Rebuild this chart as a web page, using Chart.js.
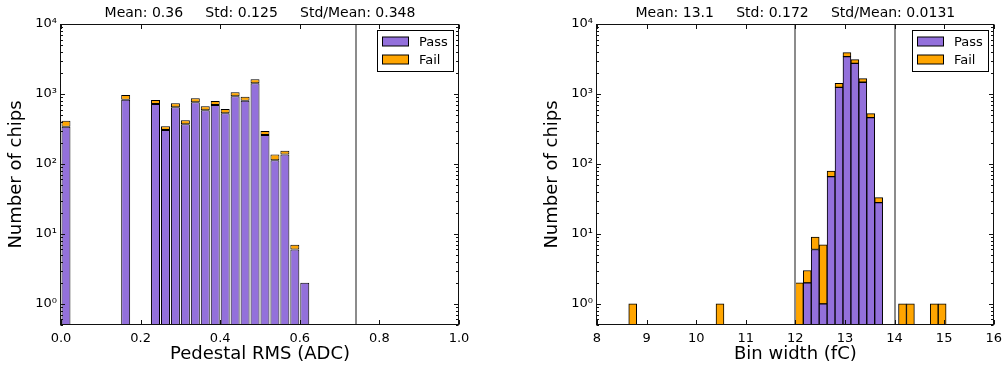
<!DOCTYPE html>
<html><head><meta charset="utf-8">
<script src="https://cdn.jsdelivr.net/npm/chart.js@4/dist/chart.umd.min.js"></script>
<style>
html,body{margin:0;padding:0;background:#fff;width:1008px;height:372px;overflow:hidden}
.w{position:absolute;top:0;width:504px;height:372px}
canvas{display:block}
</style></head><body>
<div class="w" style="left:0"><canvas id="c1" width="504" height="372"></canvas></div>
<div class="w" style="left:504px"><canvas id="c2" width="504" height="372"></canvas></div>
<script>
// ---------- data ----------
const leftBinCenters = [0.0125, 0.1625, 0.2375, 0.2625, 0.2875, 0.3125, 0.3375, 0.3625, 0.3875, 0.4125, 0.4375, 0.4625, 0.4875, 0.5125, 0.5375, 0.5625, 0.5875, 0.6125];
const leftPass = [340, 830, 720, 306, 646, 369, 761, 585, 697, 530, 926, 803, 1420, 260, 113, 136, 6, 2];
const leftFail = [75, 138, 100, 40, 90, 52, 107, 82, 97, 81, 131, 113, 200, 36, 24, 19, 1, 0];
const leftCuts = [0.74];
const leftHeader = 'Mean: 0.36     Std: 0.125     Std/Mean: 0.348';
const leftXTitle = 'Pedestal RMS (ADC)';

const rightBinCenters = [8.72, 10.48, 12.08, 12.24, 12.40, 12.56, 12.72, 12.88, 13.04, 13.20, 13.36, 13.52, 13.68, 14.16, 14.32, 14.80, 14.96];
const rightPass = [0, 0, 0, 2, 6, 1, 66, 1245, 3410, 2740, 1469, 459, 28, 0, 0, 0, 0];
const rightFail = [1, 1, 2, 1, 3, 6, 13, 175, 480, 350, 186, 64, 5, 1, 1, 1, 1];
const rightCuts = [12, 14];
const rightHeader = 'Mean: 13.1     Std: 0.172     Std/Mean: 0.0131';
const rightXTitle = 'Bin width (fC)';

const yTitle = 'Number of chips';
const yTickValues = [1, 10, 100, 1000, 10000];
const yTickLabels = ['10\u2070', '10\u00b9', '10\u00b2', '10\u00b3', '10\u2074'];
const seriesNames = ['Pass', 'Fail'];
const seriesColors = ['#9370DB', '#FFA500'];

// ---------- style ----------
const FONT = 'DejaVu Sans';
Chart.defaults.font.family = FONT;
Chart.defaults.color = '#000';

const mplPlugin = {
  id: 'mpl',
  afterDatasetsDraw(chart, args, opts) {
    const {ctx, chartArea: a, scales: {x, y}} = chart;
    ctx.save();
    // cut lines
    ctx.strokeStyle = '#8c8c8c';
    ctx.lineWidth = 2;
    for (const v of opts.cuts) {
      const px = Math.round(x.getPixelForValue(v));
      ctx.beginPath(); ctx.moveTo(px, a.top); ctx.lineTo(px, a.bottom); ctx.stroke();
    }
    // frame
    const L = Math.round(a.left) - 0.5, R = Math.round(a.right) - 0.5, T = Math.round(a.top) + 0.5, B = Math.round(a.bottom) - 0.5;
    ctx.strokeStyle = '#111';
    ctx.lineWidth = 1;
    ctx.strokeRect(L, T, R - L, B - T);
    // ticks
    ctx.beginPath();
    for (const t of x.ticks) {
      const px = Math.round(x.getPixelForValue(t.value)) + 0.5;
      ctx.moveTo(px, B); ctx.lineTo(px, B - 4.5);
      ctx.moveTo(px, T); ctx.lineTo(px, T + 4.5);
    }
    for (let k = -1; k <= 4; k++) {
      for (let m = 1; m <= 9; m++) {
        const v = m * Math.pow(10, k);
        if (v < y.min - 1e-9 || v > y.max + 1e-9) continue;
        const py = Math.round(y.getPixelForValue(v)) + 0.5;
        const len = m === 1 ? 4.5 : 2.5;
        ctx.moveTo(L, py); ctx.lineTo(L + len, py);
        ctx.moveTo(R, py); ctx.lineTo(R - len, py);
      }
    }
    ctx.stroke();
    // header
    ctx.fillStyle = '#000';
    ctx.font = '14px "' + FONT + '"';
    ctx.textAlign = 'center';
    ctx.textBaseline = 'alphabetic';
    ctx.fillText(opts.header, (a.left + a.right) / 2, 16.5);
    // legend
    const lw = 76, lh = 41;
    const lx = Math.round(a.right - 6 - lw) + 0.5, ly = Math.round(a.top + 6) + 0.5;
    ctx.fillStyle = '#fff';
    ctx.fillRect(lx, ly, lw, lh);
    ctx.strokeStyle = '#000';
    ctx.strokeRect(lx, ly, lw, lh);
    ctx.font = '13px "' + FONT + '"';
    ctx.textAlign = 'left';
    chart.data.datasets.forEach((ds, i) => {
      const ry = ly + 6 + i * 18.3;
      ctx.fillStyle = ds.backgroundColor;
      ctx.fillRect(lx + 5, Math.round(ry), 26, 9);
      ctx.strokeStyle = '#000';
      ctx.strokeRect(lx + 5, Math.round(ry), 26, 9);
      ctx.fillStyle = '#000';
      ctx.fillText(ds.label, lx + 41.5, ry + 9.5);
    });
    ctx.restore();
  }
};

function makeChart(id, centers, pass, fail, opt) {
  const toPts = arr => centers.map((c, i) => ({x: c, y: arr[i] > 0 ? arr[i] : null}));
  const dsCommon = {borderColor: '#000', borderWidth: 1, borderSkipped: false,
    barPercentage: opt.barPct, categoryPercentage: 1.0};
  return new Chart(document.getElementById(id), {
    type: 'bar',
    data: {
      datasets: [
        Object.assign({label: seriesNames[0], data: toPts(pass), backgroundColor: seriesColors[0]}, dsCommon),
        Object.assign({label: seriesNames[1], data: toPts(fail), backgroundColor: seriesColors[1]}, dsCommon)
      ]
    },
    options: {
      responsive: false,
      animation: false,
      devicePixelRatio: 1,
      layout: {padding: {left: 0, right: opt.padRight, top: 24, bottom: 0}},
      plugins: {legend: {display: false}, tooltip: {enabled: false}, title: {display: false},
        mpl: {cuts: opt.cuts, header: opt.header}},
      scales: {
        x: {
          type: 'linear', stacked: true, offset: false,
          min: opt.xmin, max: opt.xmax,
          grid: {display: false, drawTicks: false}, border: {display: false},
          ticks: {stepSize: opt.step, padding: 6, maxRotation: 0, autoSkip: false,
            font: {size: 13}, color: '#000',
            callback: v => opt.fmt(v)},
          title: {display: true, text: opt.xTitle, font: {size: 18}, color: '#000', padding: {top: 0, bottom: 7}},
          afterFit: s => { s.height = 47; }
        },
        y: {
          type: 'logarithmic', stacked: true,
          min: 0.5, max: 10000,
          grid: {display: false, drawTicks: false}, border: {display: false},
          afterBuildTicks: s => { s.ticks = yTickValues.map(v => ({value: v, major: true})); },
          ticks: {padding: 4, font: {size: 13}, color: '#000',
            callback: v => { const i = yTickValues.indexOf(v); return i >= 0 ? yTickLabels[i] : ''; }},
          title: {display: true, text: yTitle, font: {size: 18}, color: '#000', padding: {top: opt.yTitlePad, bottom: 0}},
          afterFit: s => { s.width = opt.yWidth; }
        }
      }
    },
    plugins: [mplPlugin]
  });
}

makeChart('c1', leftBinCenters, leftPass, leftFail, {
  barPct: 0.9, padRight: 45, xmin: 0, xmax: 1, step: 0.2, fmt: v => v.toFixed(1),
  xTitle: leftXTitle, yWidth: 61, yTitlePad: 6, cuts: leftCuts, header: leftHeader
});
makeChart('c2', rightBinCenters, rightPass, rightFail, {
  barPct: 1.0, padRight: 12, xmin: 8, xmax: 16, step: 1, fmt: v => String(Math.round(v)),
  xTitle: rightXTitle, yWidth: 93, yTitlePad: 38, cuts: rightCuts, header: rightHeader
});
</script>
</body></html>
